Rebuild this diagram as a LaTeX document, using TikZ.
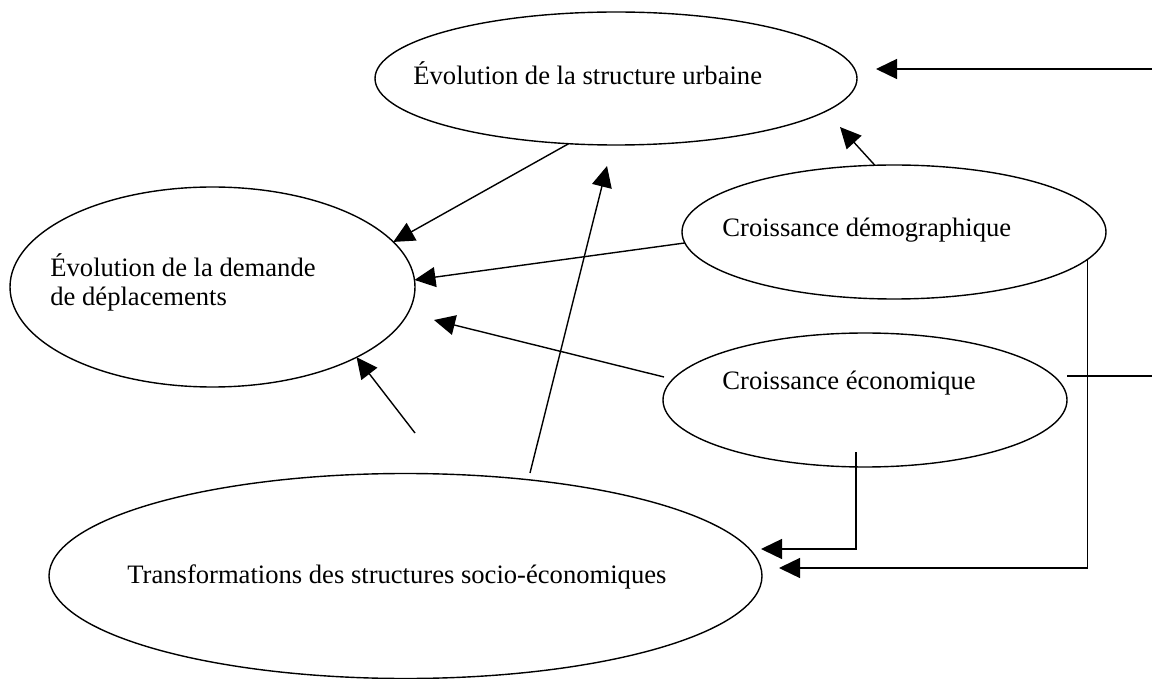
\documentclass[tikz,border=0pt]{standalone}
\usepackage{fontspec}
\setmainfont{Liberation Serif}
\usetikzlibrary{arrows.meta,shapes.geometric}

\begin{document}
\begin{tikzpicture}[
    x=0.5pt, y=-0.5pt,
    font=\fontsize{13.3}{14.5}\selectfont,
    bubble/.style={draw, ellipse, inner sep=0pt, outer sep=0pt, line width=0.7pt},
    caption/.style={anchor=base west, inner sep=0pt, align=left},
    link/.style={line width=0.7pt},
    arrow/.style={link, -{Triangle[length=10.5pt, width=10pt]}}
]
\useasboundingbox (0,0) rectangle (1152,679);

\node[bubble, minimum width=241pt, minimum height=66.5pt] (urbaine) at (616,78.5) {};
\node[bubble, minimum width=202.5pt, minimum height=100pt] (demande) at (212.5,287) {};
\node[bubble, minimum width=212pt, minimum height=67pt] (demo) at (894,232) {};
\node[bubble, minimum width=202pt, minimum height=67pt] (eco) at (865,400) {};
\node[bubble, minimum width=356.5pt, minimum height=102.5pt] (transfo) at (405.5,576) {};

\node[caption] (urbainetext) at (413,85) {Évolution de la structure urbaine};
\node[caption] (demandetext) at (50,306) {Évolution de la demande\\de déplacements};
\node[caption] (demotext) at (722,237) {Croissance démographique};
\node[caption] (ecotext) at (722,390) {Croissance économique};
\node[caption] (transfotext) at (127,583) {Transformations des structures socio-économiques};

\coordinate (farright) at (1152,69);
\coordinate (urbainein) at (876,69);
\coordinate (ecoout) at (664,377);
\coordinate (demandein) at (434,320);
\coordinate (transfoup) at (415,433);
\coordinate (transfotop) at (530,473);
\coordinate (urbainelow) at (607,166);
\coordinate (urbaineright) at (840,127);
\coordinate (ecofoot) at (856,452);
\coordinate (transfoin) at (761,549);
\coordinate (transfoinlow) at (779,568);
\coordinate (ecoright) at (1067,376);
\coordinate (farrighteco) at (1152,376);

\draw[arrow] (farright) -- (urbainein);
\draw[arrow] (urbaine.234) -- (demande.14);
\draw[arrow] (demo.183) -- (demande.2);
\draw[arrow] (ecoout) -- (demandein);
\draw[arrow] (transfoup) -- (demande.334);
\draw[arrow] (transfotop) -- (urbainelow);
\draw[arrow] (demo.106) -- (urbaineright);
\draw[arrow] (ecofoot) |- (transfoin);
\draw[arrow] (demo.352) |- (transfoinlow);
\draw[link] (ecoright) -- (farrighteco);

\end{tikzpicture}
\end{document}
